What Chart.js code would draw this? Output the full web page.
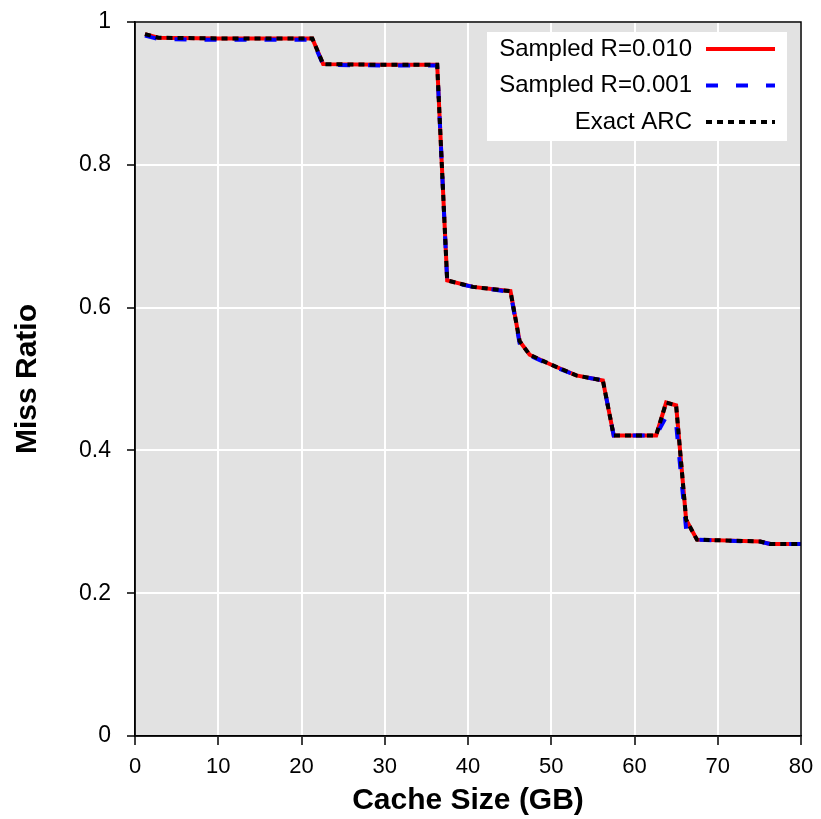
<!DOCTYPE html>
<html>
<head>
<meta charset="utf-8">
<script src="https://cdn.jsdelivr.net/npm/chart.js@4.4.1/dist/chart.umd.min.js"></script>
<style>
  html, body { margin: 0; padding: 0; background: #fff; }
  #wrap { width: 821px; height: 819px; position: relative; }
</style>
</head>
<body>
<div id="wrap"><canvas id="missChart" width="821" height="819"></canvas></div>
<script>
// cache sizes (GB) where the curves bend
const cacheSize = [1.2, 2.8, 10, 21.3, 22.6, 30, 36.3, 37.5, 40.6, 45.1, 46.2, 47.4, 50, 53, 56.2, 57.5, 62.6, 63.8, 65.0, 66.2, 67.5, 75.1, 76.3, 80];

const exactArc = [0.983, 0.978, 0.977, 0.977, 0.941, 0.940, 0.940, 0.638, 0.629, 0.623, 0.553, 0.534, 0.520, 0.505, 0.498, 0.421, 0.421, 0.467, 0.463, 0.303, 0.275, 0.2725, 0.269, 0.269];
const sampled010 = [0.983, 0.978, 0.977, 0.977, 0.941, 0.940, 0.940, 0.638, 0.629, 0.623, 0.553, 0.534, 0.520, 0.505, 0.498, 0.421, 0.421, 0.467, 0.463, 0.303, 0.275, 0.2725, 0.269, 0.269];
const sampled001 = [0.981, 0.976, 0.975, 0.975, 0.940, 0.939, 0.939, 0.637, 0.629, 0.622, 0.550, 0.533, 0.519, 0.505, 0.498, 0.421, 0.421, 0.447, 0.437, 0.290, 0.275, 0.272, 0.269, 0.269];

const seriesLabels = ['Sampled R=0.010', 'Sampled R=0.001', 'Exact ARC'];

function toPoints(ys) {
    return cacheSize.map((x, i) => ({ x: x, y: ys[i] }));
}

const sans = '"Liberation Sans", Arial, sans-serif';

// gray plot background + box border
const plotFrame = {
    id: 'plotFrame',
    beforeDraw(chart) {
        const a = chart.chartArea;
        const ctx = chart.ctx;
        ctx.save();
        ctx.fillStyle = '#e2e2e2';
        ctx.fillRect(a.left, a.top, a.right - a.left, a.bottom - a.top);
        ctx.restore();
    },
    afterDatasetsDraw(chart) {
        const a = chart.chartArea;
        const ctx = chart.ctx;
        ctx.save();
        ctx.strokeStyle = '#000';
        ctx.lineWidth = 1.5;
        ctx.strokeRect(a.left, a.top, a.right - a.left, a.bottom - a.top);
        ctx.restore();
    }
};

// legend box in the top right corner, text left of the line sample
const cornerLegend = {
    id: 'cornerLegend',
    afterDraw(chart) {
        const a = chart.chartArea;
        const ctx = chart.ctx;
        const boxRight = a.right - 14;
        const boxTop = a.top + 10;
        const boxW = 300, boxH = 109;
        ctx.save();
        ctx.fillStyle = '#fff';
        ctx.fillRect(boxRight - boxW, boxTop, boxW, boxH);
        ctx.font = '24px ' + sans;
        ctx.textAlign = 'right';
        ctx.textBaseline = 'middle';
        chart.data.datasets.forEach((ds, i) => {
            const y = boxTop + 17 + i * 36.5;
            ctx.fillStyle = '#000';
            ctx.fillText(ds.label, boxRight - 95, y);
            ctx.strokeStyle = ds.borderColor;
            ctx.lineWidth = ds.borderWidth;
            ctx.setLineDash(ds.borderDash || []);
            ctx.beginPath();
            ctx.moveTo(boxRight - 81, y);
            ctx.lineTo(boxRight - 12, y);
            ctx.stroke();
        });
        ctx.restore();
    }
};

new Chart(document.getElementById('missChart'), {
    type: 'line',
    data: {
        datasets: [{
            label: seriesLabels[0],
            data: toPoints(sampled010),
            borderColor: '#ff0000',
            borderWidth: 4,
            borderDash: [],
            order: 2
        }, {
            label: seriesLabels[1],
            data: toPoints(sampled001),
            borderColor: '#0000ff',
            borderWidth: 4,
            borderDash: [12, 18],
            order: 1
        }, {
            label: seriesLabels[2],
            data: toPoints(exactArc),
            borderColor: '#000000',
            borderWidth: 4,
            borderDash: [6, 5],
            order: 0
        }]
    },
    options: {
        responsive: false,
        animation: false,
        devicePixelRatio: 1,
        layout: { padding: { top: 22, right: 20, left: 0, bottom: 0 } },
        elements: { point: { radius: 0 }, line: { tension: 0, fill: false } },
        plugins: {
            legend: { display: false },
            tooltip: { enabled: false }
        },
        scales: {
            x: {
                type: 'linear',
                min: 0,
                max: 80,
                ticks: { stepSize: 10, color: '#000', font: { family: sans, size: 22 }, padding: 9 },
                grid: { color: '#ffffff', lineWidth: 2, tickColor: '#000', tickLength: 9, tickWidth: 1.5 },
                border: { display: true, color: '#000', width: 1.5 },
                title: { display: true, text: 'Cache Size (GB)', color: '#000', font: { family: sans, size: 30, weight: 'bold' }, padding: { top: 0, bottom: 0 } },
                afterFit(scale) { scale.height = 83; scale.paddingLeft = 0; scale.paddingRight = 0; }
            },
            y: {
                min: 0,
                max: 1,
                ticks: {
                    stepSize: 0.2, color: '#000', font: { family: sans, size: 23 }, padding: 16,
                    callback: v => String(Math.round(v * 10) / 10)
                },
                grid: { color: '#ffffff', lineWidth: 2, tickColor: '#000', tickLength: 8, tickWidth: 1.5 },
                border: { display: true, color: '#000', width: 1.5 },
                title: { display: true, text: 'Miss Ratio', color: '#000', font: { family: sans, size: 30, weight: 'bold' }, padding: { top: 10, bottom: 0 } },
                afterFit(scale) { scale.width = 135; scale.paddingTop = 0; scale.paddingBottom = 0; }
            }
        }
    },
    plugins: [plotFrame, cornerLegend]
});
</script>
</body>
</html>
